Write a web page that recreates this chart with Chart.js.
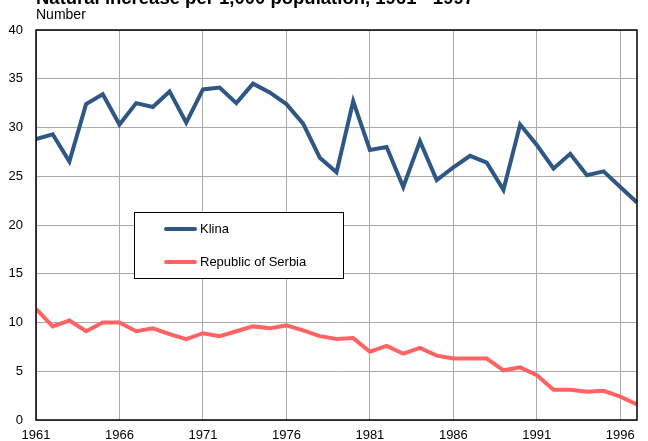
<!DOCTYPE html>
<html lang="en">
<head>
  <meta charset="UTF-8">
  <title>Natural increase per 1,000 population</title>
  <style>
    html, body { margin: 0; padding: 0; background: #fff; overflow: hidden; }
    .wrap { position: relative; width: 648px; height: 441px; }
    .title {
      position: absolute; left: 36px; top: -13px;
      font: bold 18.5px "Liberation Sans", Arial, sans-serif; color: #000; white-space: nowrap;
    }
    .unit {
      position: absolute; left: 36px; top: 6px;
      font: 14px "Liberation Sans", Arial, sans-serif; color: #000;
    }
    canvas { position: absolute; left: 0; top: 0; }
  </style>
</head>
<body>
  <div class="wrap">
    <canvas id="chart" width="648" height="441"></canvas>
    <div class="title">Natural increase per 1,000 population, 1961 - 1997</div>
    <div class="unit">Number</div>
  </div>

  <script src="https://cdn.jsdelivr.net/npm/chart.js"></script>
  <script>
    // data
    const years = [1961, 1962, 1963, 1964, 1965, 1966, 1967, 1968, 1969, 1970,
      1971, 1972, 1973, 1974, 1975, 1976, 1977, 1978, 1979, 1980,
      1981, 1982, 1983, 1984, 1985, 1986, 1987, 1988, 1989, 1990,
      1991, 1992, 1993, 1994, 1995, 1996, 1997];
    const klina = [28.8, 29.3, 26.5, 32.4, 33.4, 30.3, 32.5, 32.1, 33.7, 30.5,
      33.9, 34.1, 32.5, 34.5, 33.6, 32.4, 30.4, 26.9, 25.4, 32.7,
      27.7, 28.0, 23.9, 28.6, 24.6, 25.9, 27.1, 26.4, 23.6, 30.3,
      28.2, 25.8, 27.3, 25.1, 25.5, 23.9, 22.3];
    const serbia = [11.4, 9.6, 10.2, 9.1, 10.0, 10.0, 9.1, 9.4, 8.8, 8.3,
      8.9, 8.6, 9.1, 9.6, 9.4, 9.7, 9.2, 8.6, 8.3, 8.4,
      7.0, 7.6, 6.8, 7.4, 6.6, 6.3, 6.3, 6.3, 5.1, 5.4,
      4.6, 3.1, 3.1, 2.9, 3.0, 2.4, 1.6];
    const xTicks = [1961, 1966, 1971, 1976, 1981, 1986, 1991, 1996];
    const seriesNames = ['Klina', 'Republic of Serbia'];
    const seriesColors = ['#2f5785', '#ff6363'];

    const font = { family: '"Liberation Sans", Arial, sans-serif', size: 13 };

    // frame round the plot area
    const frame = {
      id: 'frame',
      afterDatasetsDraw(chart) {
        const a = chart.chartArea, c = chart.ctx;
        c.save();
        c.strokeStyle = '#000';
        c.lineWidth = 1.5;
        c.strokeRect(a.left, a.top, a.right - a.left, a.bottom - a.top);
        c.restore();
      }
    };

    // boxed legend inside the plot
    const boxLegend = {
      id: 'boxLegend',
      afterDraw(chart) {
        const c = chart.ctx;
        const x = 134, y = 212, w = 209, h = 66;
        c.save();
        c.fillStyle = '#fff';
        c.fillRect(x, y, w, h);
        c.strokeStyle = '#000';
        c.lineWidth = 1;
        c.strokeRect(x + 0.5, y + 0.5, w, h);
        c.font = '13px "Liberation Sans", Arial, sans-serif';
        c.textBaseline = 'middle';
        chart.data.datasets.forEach((ds, i) => {
          const ly = y + 17 + i * 33;
          c.strokeStyle = ds.borderColor;
          c.lineWidth = 4;
          c.lineCap = 'round';
          c.beginPath();
          c.moveTo(x + 32, ly);
          c.lineTo(x + 61, ly);
          c.stroke();
          c.fillStyle = '#000';
          c.fillText(ds.label, x + 66, ly);
        });
        c.restore();
      }
    };

    new Chart(document.getElementById('chart'), {
      type: 'line',
      data: {
        datasets: seriesNames.map((name, i) => ({
          label: name,
          data: years.map((yr, j) => ({ x: yr, y: [klina, serbia][i][j] })),
          borderColor: seriesColors[i],
          borderWidth: 4,
          pointRadius: 0,
          tension: 0,
          fill: false
        }))
      },
      options: {
        responsive: false,
        animation: false,
        layout: { padding: { top: 30, right: 11, left: 0, bottom: 0 } },
        plugins: {
          legend: { display: false },
          tooltip: { enabled: false }
        },
        scales: {
          x: {
            type: 'linear',
            min: 1961,
            max: 1997,
            afterBuildTicks: scale => { scale.ticks = xTicks.map(v => ({ value: v })); },
            afterFit: scale => { scale.height = 21; },
            grid: { color: '#aaaaaa', lineWidth: 1, drawTicks: false },
            border: { display: false },
            ticks: { color: '#000', font, padding: 8, maxRotation: 0, autoSkip: false, callback: v => String(v) }
          },
          y: {
            min: 0,
            max: 40,
            afterFit: scale => { scale.width = 36; },
            grid: { color: '#aaaaaa', lineWidth: 1, drawTicks: false },
            border: { display: false },
            ticks: { stepSize: 5, color: '#000', font, padding: 13 }
          }
        }
      },
      plugins: [frame, boxLegend]
    });
  </script>
</body>
</html>
